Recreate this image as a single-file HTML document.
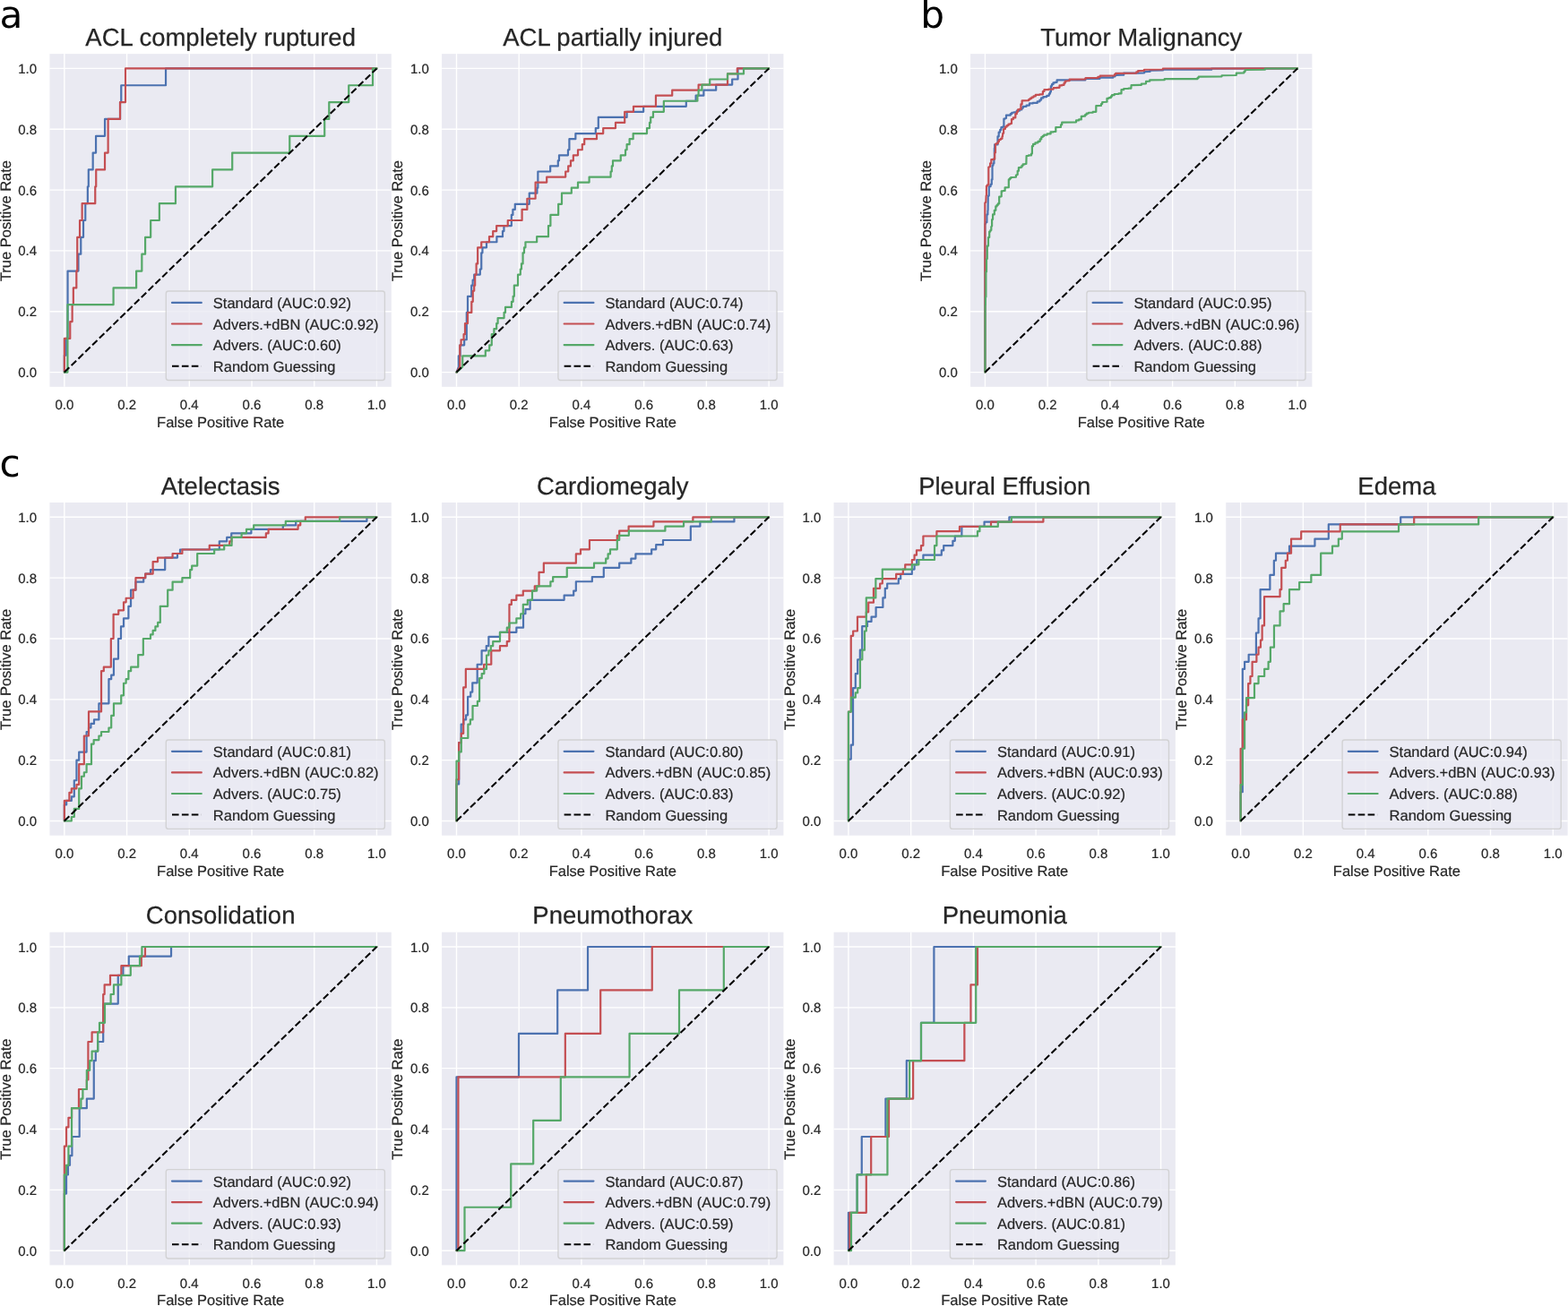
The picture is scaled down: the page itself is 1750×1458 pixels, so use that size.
<!DOCTYPE html>
<html lang="en"><head><meta charset="utf-8"><title>ROC curves</title>
<style>
html,body{margin:0;padding:0;background:#fff;}
body{width:1750px;height:1458px;overflow:hidden;}
svg{display:block;}
text{font-family:"Liberation Sans",Arial,Helvetica,sans-serif;fill:#262626;text-rendering:geometricPrecision;}
.ttl{font-size:27.5px;text-anchor:middle;stroke:#262626;stroke-width:0.25px;}
.tk{font-size:15px;stroke:#262626;stroke-width:0.2px;}
.tkx{text-anchor:middle;}
.tky{text-anchor:end;}
.lab{font-size:16.5px;text-anchor:middle;stroke:#262626;stroke-width:0.2px;}
.lg{font-size:16.5px;stroke:#262626;stroke-width:0.2px;}
.pn{font-family:"DejaVu Sans","Liberation Sans",sans-serif;font-size:42.2px;fill:#000;text-rendering:geometricPrecision;}
.grid line{stroke:#fff;stroke-width:1.37;}
.cv{fill:none;stroke-width:2.2;stroke-linejoin:round;stroke-linecap:round;}
.b{stroke:#4c72b0;}.r{stroke:#c44e52;}.g{stroke:#55a868;}
.dg{fill:none;stroke:#000;stroke-width:2.05;stroke-dasharray:7.6 3.3;}
.lbox{fill:#eaeaf2;fill-opacity:0.8;stroke:#ccc;stroke-opacity:0.8;stroke-width:1.37;}
</style></head><body>
<svg width="1750" height="1458" viewBox="0 0 1750 1458" role="img" aria-label="ROC curves for knee MRI, brain tumor and chest radiograph classifiers">
<rect x="0" y="0" width="1750" height="1458" fill="#fff"/>
<g id="p-acl_full">
<defs><clipPath id="c0"><rect x="55.45" y="60.1" width="381.35" height="371.7"/></clipPath></defs>
<rect x="55.45" y="60.1" width="381.35" height="371.7" fill="#eaeaf2"/>
<g class="grid">
<line x1="71.85" y1="60.1" x2="71.85" y2="431.8"/>
<line x1="55.45" y1="415.6" x2="436.8" y2="415.6"/>
<line x1="141.57" y1="60.1" x2="141.57" y2="431.8"/>
<line x1="55.45" y1="347.76" x2="436.8" y2="347.76"/>
<line x1="211.29" y1="60.1" x2="211.29" y2="431.8"/>
<line x1="55.45" y1="279.92" x2="436.8" y2="279.92"/>
<line x1="281.01" y1="60.1" x2="281.01" y2="431.8"/>
<line x1="55.45" y1="212.08" x2="436.8" y2="212.08"/>
<line x1="350.73" y1="60.1" x2="350.73" y2="431.8"/>
<line x1="55.45" y1="144.24" x2="436.8" y2="144.24"/>
<line x1="420.45" y1="60.1" x2="420.45" y2="431.8"/>
<line x1="55.45" y1="76.4" x2="436.8" y2="76.4"/>
</g>
<g clip-path="url(#c0)">
<polyline class="cv b" points="71.85,415.6 71.85,396.76 73.7,396.76 73.7,377.91 75.55,377.91 75.55,302.53 87.47,302.53 87.47,283.69 90.26,283.69 90.26,264.84 93.04,264.84 93.04,246 95.28,246 95.28,227.16 97.86,227.16 97.86,208.31 98.8,208.31 98.8,189.47 103.68,189.47 103.68,170.62 107.06,170.62 107.06,151.78 117.03,151.78 117.03,132.93 134.04,132.93 134.04,114.09 135.26,114.09 135.26,95.24 185.04,95.24 185.04,76.4 420.45,76.4"/>
<polyline class="cv r" points="71.85,415.6 71.85,377.91 78.26,377.91 78.26,359.07 80.63,359.07 80.63,340.22 81.85,340.22 81.85,321.38 85.31,321.38 85.31,302.53 86.25,302.53 86.25,264.84 89.04,264.84 89.04,246 91.62,246 91.62,227.16 106.26,227.16 106.26,208.31 107.23,208.31 107.23,189.47 117.03,189.47 117.03,170.62 120.62,170.62 120.62,132.93 134.04,132.93 134.04,114.09 140.04,114.09 140.04,76.4 420.45,76.4"/>
<polyline class="cv g" points="71.85,415.6 75.44,415.6 75.44,340.22 126.58,340.22 126.58,321.38 152.13,321.38 152.13,302.53 158.34,302.53 158.34,283.69 162.1,283.69 162.1,264.84 168.17,264.84 168.17,246 177.86,246 177.86,227.16 195.95,227.16 195.95,208.31 237.12,208.31 237.12,189.47 259.22,189.47 259.22,170.62 323.26,170.62 323.26,151.78 362.23,151.78 362.23,132.93 367.29,132.93 367.29,114.09 389.25,114.09 389.25,95.24 416.02,95.24 416.02,76.4 420.45,76.4"/>
<line class="dg" x1="71.85" y1="415.6" x2="420.45" y2="76.4"/>
</g>
<rect class="lbox" x="185.3" y="325.05" width="244.1" height="99.4" rx="2.7" ry="2.7"/>
<line class="cv b" x1="192" y1="337.95" x2="224.8" y2="337.95"/>
<text class="lg" x="237.8" y="343.95">Standard (AUC:0.92)</text>
<line class="cv r" x1="192" y1="361.52" x2="224.8" y2="361.52"/>
<text class="lg" x="237.8" y="367.52">Advers.+dBN (AUC:0.92)</text>
<line class="cv g" x1="192" y1="385.09" x2="224.8" y2="385.09"/>
<text class="lg" x="237.8" y="391.09">Advers. (AUC:0.60)</text>
<line class="dg" x1="192" y1="408.66" x2="224.8" y2="408.66"/>
<text class="lg" x="237.8" y="414.66">Random Guessing</text>
<text class="ttl" x="246.13" y="50.8">ACL completely ruptured</text>
<text class="tk tkx" x="71.85" y="457.1">0.0</text>
<text class="tk tky" x="41.15" y="421.1">0.0</text>
<text class="tk tkx" x="141.57" y="457.1">0.2</text>
<text class="tk tky" x="41.15" y="353.26">0.2</text>
<text class="tk tkx" x="211.29" y="457.1">0.4</text>
<text class="tk tky" x="41.15" y="285.42">0.4</text>
<text class="tk tkx" x="281.01" y="457.1">0.6</text>
<text class="tk tky" x="41.15" y="217.58">0.6</text>
<text class="tk tkx" x="350.73" y="457.1">0.8</text>
<text class="tk tky" x="41.15" y="149.74">0.8</text>
<text class="tk tkx" x="420.45" y="457.1">1.0</text>
<text class="tk tky" x="41.15" y="81.9">1.0</text>
<text class="lab" x="246.13" y="476.8">False Positive Rate</text>
<text class="lab" transform="translate(11.65 246.55) rotate(-90)">True Positive Rate</text>
</g>
<g id="p-acl_part">
<defs><clipPath id="c1"><rect x="493.1" y="60.1" width="381.35" height="371.7"/></clipPath></defs>
<rect x="493.1" y="60.1" width="381.35" height="371.7" fill="#eaeaf2"/>
<g class="grid">
<line x1="509.5" y1="60.1" x2="509.5" y2="431.8"/>
<line x1="493.1" y1="415.6" x2="874.45" y2="415.6"/>
<line x1="579.22" y1="60.1" x2="579.22" y2="431.8"/>
<line x1="493.1" y1="347.76" x2="874.45" y2="347.76"/>
<line x1="648.94" y1="60.1" x2="648.94" y2="431.8"/>
<line x1="493.1" y1="279.92" x2="874.45" y2="279.92"/>
<line x1="718.66" y1="60.1" x2="718.66" y2="431.8"/>
<line x1="493.1" y1="212.08" x2="874.45" y2="212.08"/>
<line x1="788.38" y1="60.1" x2="788.38" y2="431.8"/>
<line x1="493.1" y1="144.24" x2="874.45" y2="144.24"/>
<line x1="858.1" y1="60.1" x2="858.1" y2="431.8"/>
<line x1="493.1" y1="76.4" x2="874.45" y2="76.4"/>
</g>
<g clip-path="url(#c1)">
<polyline class="cv b" points="509.5,415.6 511.8,409.54 511.8,397.43 513.6,397.43 513.6,385.31 518.16,385.31 518.16,379.26 520.8,379.26 520.8,348.97 522,348.97 522,330.8 526.2,330.8 526.2,318.69 527.64,318.69 527.64,312.63 529.2,312.63 529.2,306.57 535.8,306.57 535.8,300.51 537.24,300.51 537.24,282.34 538.44,282.34 538.44,276.29 543,276.29 543,270.23 554.4,270.23 554.4,264.17 561,264.17 561,258.11 562.44,258.11 562.44,252.06 570.84,252.06 570.84,239.94 572.4,239.94 572.4,233.89 574.8,233.89 574.8,227.83 590.76,227.83 590.76,215.71 599.4,215.71 599.4,209.66 600.36,209.66 600.36,191.49 614.16,191.49 614.16,185.43 622.8,185.43 622.8,179.37 624,179.37 624,173.31 633.96,173.31 633.96,167.26 635.4,167.26 635.4,155.14 642.36,155.14 642.36,149.09 664.8,149.09 664.8,143.03 667.8,143.03 667.8,130.91 699.6,130.91 699.6,124.86 718.16,124.86 718.16,118.8 765.81,118.8 765.81,112.74 776.61,112.74 776.61,106.69 785.37,106.69 785.37,100.63 799.17,100.63 799.17,94.57 817.17,94.57 817.17,88.51 823.53,88.51 823.53,76.4 858.1,76.4"/>
<polyline class="cv r" points="509.5,415.6 513.24,409.54 513.24,385.31 514.56,385.31 514.56,379.26 517.56,379.26 517.56,373.2 519,373.2 519,361.09 522,361.09 522,348.97 526.32,348.97 526.32,336.86 527.76,336.86 527.76,324.74 529.2,324.74 529.2,318.69 530.16,318.69 530.16,306.57 531.6,306.57 531.6,294.46 533.16,294.46 533.16,276.29 537.24,276.29 537.24,270.23 546,270.23 546,264.17 550.2,264.17 550.2,258.11 554.16,258.11 554.16,252.06 566.76,252.06 566.76,246 582.6,246 582.6,233.89 588.36,233.89 588.36,221.77 597.6,221.77 597.6,203.6 610.2,203.6 610.2,197.54 631.2,197.54 631.2,191.49 634.2,191.49 634.2,185.43 636.96,185.43 636.96,179.37 639.84,179.37 639.84,173.31 645,173.31 645,167.26 649.8,167.26 649.8,161.2 652.2,161.2 652.2,155.14 666,155.14 666,149.09 673.2,149.09 673.2,143.03 687,143.03 687,136.97 697.2,136.97 697.2,124.86 707,124.86 707,118.8 731.96,118.8 731.96,106.69 750.21,106.69 750.21,100.63 779.61,100.63 779.61,94.57 812.01,94.57 812.01,82.46 822.81,82.46 822.81,76.4 858.1,76.4"/>
<polyline class="cv g" points="509.5,415.6 516.24,409.54 516.24,397.43 541.8,397.43 541.8,391.37 546.24,391.37 546.24,385.31 548.76,385.31 548.76,373.2 551.4,373.2 551.4,367.14 554.16,367.14 554.16,361.09 555.6,361.09 555.6,355.03 562.56,355.03 562.56,348.97 564,348.97 564,342.91 570.96,342.91 570.96,336.86 572.64,336.86 572.64,330.8 573.84,330.8 573.84,318.69 578.04,318.69 578.04,306.57 580.8,306.57 580.8,300.51 582,300.51 582,294.46 583.56,294.46 583.56,282.34 585,282.34 585,276.29 586.44,276.29 586.44,270.23 599.16,270.23 599.16,264.17 612,264.17 612,252.06 614.4,252.06 614.4,239.94 623.16,239.94 623.16,227.83 627,227.83 627,215.71 637.8,215.71 637.8,209.66 645,209.66 645,203.6 657.6,203.6 657.6,197.54 681.6,197.54 681.6,191.49 682.8,191.49 682.8,185.43 684,185.43 684,179.37 692.76,179.37 692.76,173.31 698.04,173.31 698.04,167.26 699.6,167.26 699.6,161.2 702.6,161.2 702.6,155.14 706.64,155.14 706.64,149.09 722,149.09 722,143.03 725,143.03 725,136.97 726.2,136.97 726.2,130.91 728.96,130.91 728.96,124.86 740.84,124.86 740.84,112.74 778.41,112.74 778.41,106.69 779.61,106.69 779.61,100.63 783.45,100.63 783.45,94.57 792.21,94.57 792.21,88.51 812.01,88.51 812.01,82.46 830.01,82.46 830.01,76.4 858.1,76.4"/>
<line class="dg" x1="509.5" y1="415.6" x2="858.1" y2="76.4"/>
</g>
<rect class="lbox" x="622.95" y="325.05" width="244.1" height="99.4" rx="2.7" ry="2.7"/>
<line class="cv b" x1="629.65" y1="337.95" x2="662.45" y2="337.95"/>
<text class="lg" x="675.45" y="343.95">Standard (AUC:0.74)</text>
<line class="cv r" x1="629.65" y1="361.52" x2="662.45" y2="361.52"/>
<text class="lg" x="675.45" y="367.52">Advers.+dBN (AUC:0.74)</text>
<line class="cv g" x1="629.65" y1="385.09" x2="662.45" y2="385.09"/>
<text class="lg" x="675.45" y="391.09">Advers. (AUC:0.63)</text>
<line class="dg" x1="629.65" y1="408.66" x2="662.45" y2="408.66"/>
<text class="lg" x="675.45" y="414.66">Random Guessing</text>
<text class="ttl" x="683.78" y="50.8">ACL partially injured</text>
<text class="tk tkx" x="509.5" y="457.1">0.0</text>
<text class="tk tky" x="478.8" y="421.1">0.0</text>
<text class="tk tkx" x="579.22" y="457.1">0.2</text>
<text class="tk tky" x="478.8" y="353.26">0.2</text>
<text class="tk tkx" x="648.94" y="457.1">0.4</text>
<text class="tk tky" x="478.8" y="285.42">0.4</text>
<text class="tk tkx" x="718.66" y="457.1">0.6</text>
<text class="tk tky" x="478.8" y="217.58">0.6</text>
<text class="tk tkx" x="788.38" y="457.1">0.8</text>
<text class="tk tky" x="478.8" y="149.74">0.8</text>
<text class="tk tkx" x="858.1" y="457.1">1.0</text>
<text class="tk tky" x="478.8" y="81.9">1.0</text>
<text class="lab" x="683.78" y="476.8">False Positive Rate</text>
<text class="lab" transform="translate(449.3 246.55) rotate(-90)">True Positive Rate</text>
</g>
<g id="p-tumor">
<defs><clipPath id="c2"><rect x="1083.05" y="60.1" width="381.35" height="371.7"/></clipPath></defs>
<rect x="1083.05" y="60.1" width="381.35" height="371.7" fill="#eaeaf2"/>
<g class="grid">
<line x1="1099.45" y1="60.1" x2="1099.45" y2="431.8"/>
<line x1="1083.05" y1="415.6" x2="1464.4" y2="415.6"/>
<line x1="1169.17" y1="60.1" x2="1169.17" y2="431.8"/>
<line x1="1083.05" y1="347.76" x2="1464.4" y2="347.76"/>
<line x1="1238.89" y1="60.1" x2="1238.89" y2="431.8"/>
<line x1="1083.05" y1="279.92" x2="1464.4" y2="279.92"/>
<line x1="1308.61" y1="60.1" x2="1308.61" y2="431.8"/>
<line x1="1083.05" y1="212.08" x2="1464.4" y2="212.08"/>
<line x1="1378.33" y1="60.1" x2="1378.33" y2="431.8"/>
<line x1="1083.05" y1="144.24" x2="1464.4" y2="144.24"/>
<line x1="1448.05" y1="60.1" x2="1448.05" y2="431.8"/>
<line x1="1083.05" y1="76.4" x2="1464.4" y2="76.4"/>
</g>
<g clip-path="url(#c2)">
<polyline class="cv b" points="1099.45,415.6 1099.4,250 1100,250 1100,248.2 1100.6,248.2 1101.4,248.2 1101.4,239.4 1102.2,239.4 1102.4,239.4 1102.4,235 1102.6,235 1102.76,219.6 1103.18,219.6 1103.18,218.4 1103.6,218.4 1103.78,218.4 1103.78,208.8 1103.96,208.8 1104.38,208.8 1104.38,208.2 1104.8,208.2 1105.58,208.2 1105.58,205.8 1106.36,205.8 1106.78,205.8 1106.78,200.4 1107.2,200.4 1107.5,200.4 1107.5,184.8 1107.8,184.8 1108.4,184.8 1108.4,182.4 1109,182.4 1109.42,182.4 1109.42,178.2 1109.84,178.2 1109.84,165.6 1110.14,165.6 1110.14,161.4 1110.44,161.4 1113.2,161.4 1113.5,161.4 1113.5,152.4 1113.8,152.4 1114.7,152.4 1114.7,147.6 1115.6,147.6 1116.2,147.6 1116.2,144.9 1116.8,144.9 1117.4,144.9 1117.4,142.2 1118,142.2 1118.9,142.2 1118.9,141.6 1119.8,141.6 1120.4,141.6 1120.4,132.6 1121,132.6 1121.9,132.6 1121.9,132 1122.8,132 1122.98,132 1122.98,128.64 1123.16,128.64 1127,128.64 1127.75,128.64 1127.75,127.2 1128.5,127.2 1129.25,127.2 1129.25,125.76 1130,125.76 1131.5,125.76 1131.5,125.4 1133,125.4 1134.8,125.4 1134.8,123.6 1136.6,123.6 1138.1,123.6 1138.1,122.4 1139.6,122.4 1140.35,122.4 1140.35,120.6 1141.1,120.6 1141.85,120.6 1141.85,118.8 1142.6,118.8 1145.6,118.8 1145.6,117.6 1148.6,117.6 1148.9,117.6 1148.9,115.44 1149.2,115.44 1152.8,115.44 1152.8,114.96 1156.4,114.96 1157.75,114.96 1157.75,113.28 1159.1,113.28 1160.45,113.28 1160.45,111.6 1161.8,111.6 1162.1,111.6 1162.1,109.44 1162.4,109.44 1164.35,109.44 1164.35,108.12 1166.3,108.12 1168.25,108.12 1168.25,106.8 1170.2,106.8 1170.8,106.8 1170.8,104.7 1171.4,104.7 1172,104.7 1172,102.6 1172.6,102.6 1172.9,102.6 1172.9,96 1173.2,96 1173.95,96 1173.95,94.2 1174.7,94.2 1175.45,94.2 1175.45,92.4 1176.2,92.4 1177.4,92.4 1177.4,91.8 1178.6,91.8 1179.62,91.8 1179.62,89.4 1180.64,89.4 1211,89.4 1211.3,89.4 1211.3,87.84 1211.6,87.84 1227.2,87.84 1227.5,87.84 1227.5,86.64 1227.8,86.64 1241,86.64 1242.2,86.64 1242.2,85.32 1243.4,85.32 1244.6,85.32 1244.6,84 1245.8,84 1251.8,83.76 1254.2,83.76 1254.2,81.6 1256.6,81.6 1269.92,81.6 1276.6,81.36 1277.2,81.36 1277.2,80.16 1277.8,80.16 1282,79.92 1283.5,79.92 1283.5,78.6 1285,78.6 1297.6,78.36 1298.2,78.36 1298.2,77.76 1298.8,77.76 1351.6,77.76 1352.2,77.76 1352.2,76.68 1352.8,76.68 1448.05,76.4"/>
<polyline class="cv r" points="1099.45,415.6 1099.3,226.6 1099.8,226.6 1099.8,225.8 1100.3,225.8 1100.6,218.4 1100.9,218.4 1100.9,207.6 1101.2,207.6 1102.1,207.6 1102.1,206.4 1103,206.4 1103.3,206.4 1103.3,186.6 1103.6,186.6 1104.2,186.6 1104.2,186 1104.8,186 1105.1,186 1105.1,182.4 1105.4,182.4 1106.3,182.4 1106.3,178.2 1107.2,178.2 1108.4,178.2 1108.4,177.6 1109.6,177.6 1110.2,177.6 1110.2,170.4 1110.8,170.4 1110.98,170.4 1110.98,160.8 1111.16,160.8 1112.18,160.8 1112.18,160.2 1113.2,160.2 1113.8,160.2 1113.8,158.1 1114.4,158.1 1115,158.1 1115,156 1115.6,156 1116.8,156 1116.8,154.8 1118,154.8 1118.48,154.8 1118.48,152.4 1118.96,152.4 1119.2,148.8 1120.1,148.8 1120.1,144 1121,144 1121.9,144 1121.9,141.6 1122.8,141.6 1123.7,141.6 1123.7,140.1 1124.6,140.1 1125.5,140.1 1125.5,138.6 1126.4,138.6 1127.6,138.6 1127.6,138 1128.8,138 1128.98,138 1128.98,133.2 1129.16,133.2 1130.78,133.2 1130.78,131.4 1132.4,131.4 1133.3,131.4 1133.3,127.2 1134.2,127.2 1134.8,127.2 1134.8,124.8 1135.4,124.8 1136,124.8 1136,122.4 1136.6,122.4 1137.5,122.4 1137.5,121.8 1138.4,121.8 1139.42,121.8 1139.42,116.4 1140.44,116.4 1140.62,116.4 1140.62,112.44 1140.8,112.44 1147.4,112.2 1148.15,112.2 1148.15,111 1148.9,111 1149.65,111 1149.65,109.8 1150.4,109.8 1151.45,109.8 1151.45,108.6 1152.5,108.6 1153.55,108.6 1153.55,107.4 1154.6,107.4 1155.8,107.4 1155.8,105.84 1157,105.84 1160.3,105.84 1160.3,105.36 1163.6,105.36 1163.9,105.36 1163.9,102 1164.2,102 1165.4,102 1165.4,100.2 1166.6,100.2 1170.2,100.2 1170.2,99.6 1173.8,99.6 1175.6,99.6 1175.6,98.16 1177.4,98.16 1179.5,98.16 1179.5,97.8 1181.6,97.8 1182.5,97.8 1182.5,95.4 1183.4,95.4 1185.2,95.4 1185.2,94.8 1187,94.8 1187.6,94.8 1187.6,92.7 1188.2,92.7 1188.8,92.7 1188.8,90.6 1189.4,90.6 1190.6,90.6 1190.6,90.24 1191.8,90.24 1193.6,90.24 1193.6,88.56 1195.4,88.56 1211,88.32 1211.6,88.32 1211.6,87 1212.2,87 1224.2,87 1225.4,87 1225.4,85.8 1226.6,85.8 1227.8,85.8 1227.8,84.6 1229,84.6 1243.4,84.36 1244,84.36 1244,83.1 1244.6,83.1 1245.2,83.1 1245.2,81.84 1245.8,81.84 1267.4,81.6 1268.3,81.6 1268.3,80.4 1269.2,80.4 1270.1,80.4 1270.1,79.2 1271,79.2 1276.6,78.96 1276.9,78.96 1276.9,77.76 1277.2,77.76 1297.6,77.52 1297.9,77.52 1297.9,76.5 1298.2,76.5 1448.05,76.4"/>
<polyline class="cv g" points="1099.45,415.6 1099.6,341 1099.9,341 1099.9,331.4 1100.2,331.4 1100.4,331.4 1100.4,303.4 1100.6,303.4 1101,303.4 1101,289 1101.4,289 1101.8,289 1101.8,274.6 1102.2,274.6 1103,274.6 1103,265 1103.8,265 1104.2,265 1104.2,258.6 1104.6,258.6 1105.3,258.6 1105.3,257 1106,257 1106.3,257 1106.3,253 1106.6,253 1106.85,253 1106.85,252.6 1107.1,252.6 1107.1,245 1108.05,245 1108.05,239.4 1109,239.4 1109.8,239.4 1109.8,234.8 1110.6,234.8 1111.3,234.8 1111.3,230.4 1112,230.4 1112.6,230.4 1112.6,228.9 1113.2,228.9 1113.8,228.9 1113.8,227.4 1114.4,227.4 1115.18,227.4 1115.18,219.6 1115.96,219.6 1117.4,219.36 1117.7,219.36 1117.7,213.36 1118,213.36 1119.5,213.36 1119.5,213 1121,213 1121.6,213 1121.6,209.4 1122.2,209.4 1125.2,209.16 1125.8,209.16 1125.8,200.4 1126.4,200.4 1127,200.4 1127,199.2 1127.6,199.2 1128.2,199.2 1128.2,198 1128.8,198 1133.6,197.76 1133.9,197.76 1133.9,195.6 1134.2,195.6 1134.8,195.6 1134.8,195 1135.4,195 1135.7,195 1135.7,190.8 1136,190.8 1136.9,190.8 1136.9,187.2 1137.8,187.2 1139,187.2 1139,186.6 1140.2,186.6 1140.5,186.6 1140.5,184.8 1140.8,184.8 1141.7,184.8 1141.7,183.36 1142.6,183.36 1143.98,183.36 1143.98,183 1145.36,183 1145.6,174 1148,174 1148,173.4 1150.4,173.4 1151,173.4 1151,171.6 1151.6,171.6 1151.9,171.6 1151.9,163.2 1152.2,163.2 1153.1,163.2 1153.1,160.8 1154,160.8 1155.5,160.8 1155.5,159.3 1157,159.3 1158.5,159.3 1158.5,157.8 1160,157.8 1160.75,157.8 1160.75,155.4 1161.5,155.4 1162.25,155.4 1162.25,153 1163,153 1163.75,153 1163.75,151.8 1164.5,151.8 1165.25,151.8 1165.25,150.6 1166,150.6 1168.7,150.6 1168.7,149.4 1171.4,149.4 1172.6,149.4 1172.6,147.36 1173.8,147.36 1175.9,147.36 1175.9,147 1178,147 1178.3,147 1178.3,142.2 1178.6,142.2 1183.4,141.96 1184,141.96 1184,139.26 1184.6,139.26 1185.2,139.26 1185.2,136.56 1185.8,136.56 1200.2,136.32 1201.1,136.32 1201.1,134.4 1202,134.4 1204.1,134.4 1204.1,133.44 1206.2,133.44 1206.8,133.44 1206.8,129.96 1207.4,129.96 1208.9,129.96 1208.9,129.6 1210.4,129.6 1211.15,129.6 1211.15,128.1 1211.9,128.1 1212.65,128.1 1212.65,126.6 1213.4,126.6 1214.9,126.6 1214.9,125.76 1216.4,125.76 1219.7,125.76 1219.7,124.8 1223,124.8 1223.3,124.8 1223.3,118.2 1223.6,118.2 1228.4,117.96 1229,117.96 1229,115.98 1229.6,115.98 1230.2,115.98 1230.2,114 1230.8,114 1235,113.76 1235.48,113.76 1235.48,109.8 1235.96,109.8 1237.58,109.8 1237.58,109.2 1239.2,109.2 1239.8,109.2 1239.8,107.7 1240.4,107.7 1241,107.7 1241,106.2 1241.6,106.2 1243.7,106.2 1243.7,105 1245.8,105 1248.5,105 1248.5,104.4 1251.2,104.4 1251.5,104.4 1251.5,100.2 1251.8,100.2 1254.2,100.2 1254.2,99 1256.6,99 1259.48,99 1259.48,98.64 1262.36,98.64 1262.6,95.04 1272.2,94.8 1273.6,94.8 1273.9,94.8 1273.9,93.6 1274.2,93.6 1278.4,93.36 1279,93.36 1279,90.96 1279.6,90.96 1282.6,90.72 1283.2,90.72 1283.2,89.4 1283.8,89.4 1299.4,89.16 1299.7,89.16 1299.7,88.08 1300,88.08 1336,88.08 1336.6,88.08 1336.6,86.82 1337.2,86.82 1337.8,86.82 1337.8,85.56 1338.4,85.56 1363,85.32 1363.6,85.32 1363.6,84.24 1364.2,84.24 1379.2,84 1379.8,84 1379.8,81.6 1380.4,81.6 1387.6,81.36 1388.5,81.36 1388.5,79.8 1389.4,79.8 1389.7,79.8 1389.7,78 1390,78 1411.6,77.76 1411.9,77.76 1411.9,76.5 1412.2,76.5 1448.05,76.4"/>
<line class="dg" x1="1099.45" y1="415.6" x2="1448.05" y2="76.4"/>
</g>
<rect class="lbox" x="1212.9" y="325.05" width="244.1" height="99.4" rx="2.7" ry="2.7"/>
<line class="cv b" x1="1219.6" y1="337.95" x2="1252.4" y2="337.95"/>
<text class="lg" x="1265.4" y="343.95">Standard (AUC:0.95)</text>
<line class="cv r" x1="1219.6" y1="361.52" x2="1252.4" y2="361.52"/>
<text class="lg" x="1265.4" y="367.52">Advers.+dBN (AUC:0.96)</text>
<line class="cv g" x1="1219.6" y1="385.09" x2="1252.4" y2="385.09"/>
<text class="lg" x="1265.4" y="391.09">Advers. (AUC:0.88)</text>
<line class="dg" x1="1219.6" y1="408.66" x2="1252.4" y2="408.66"/>
<text class="lg" x="1265.4" y="414.66">Random Guessing</text>
<text class="ttl" x="1273.72" y="50.8">Tumor Malignancy</text>
<text class="tk tkx" x="1099.45" y="457.1">0.0</text>
<text class="tk tky" x="1068.75" y="421.1">0.0</text>
<text class="tk tkx" x="1169.17" y="457.1">0.2</text>
<text class="tk tky" x="1068.75" y="353.26">0.2</text>
<text class="tk tkx" x="1238.89" y="457.1">0.4</text>
<text class="tk tky" x="1068.75" y="285.42">0.4</text>
<text class="tk tkx" x="1308.61" y="457.1">0.6</text>
<text class="tk tky" x="1068.75" y="217.58">0.6</text>
<text class="tk tkx" x="1378.33" y="457.1">0.8</text>
<text class="tk tky" x="1068.75" y="149.74">0.8</text>
<text class="tk tkx" x="1448.05" y="457.1">1.0</text>
<text class="tk tky" x="1068.75" y="81.9">1.0</text>
<text class="lab" x="1273.72" y="476.8">False Positive Rate</text>
<text class="lab" transform="translate(1039.25 246.55) rotate(-90)">True Positive Rate</text>
</g>
<g id="p-atel">
<defs><clipPath id="c3"><rect x="55.45" y="561" width="381.35" height="371.7"/></clipPath></defs>
<rect x="55.45" y="561" width="381.35" height="371.7" fill="#eaeaf2"/>
<g class="grid">
<line x1="71.85" y1="561" x2="71.85" y2="932.7"/>
<line x1="55.45" y1="916.5" x2="436.8" y2="916.5"/>
<line x1="141.57" y1="561" x2="141.57" y2="932.7"/>
<line x1="55.45" y1="848.66" x2="436.8" y2="848.66"/>
<line x1="211.29" y1="561" x2="211.29" y2="932.7"/>
<line x1="55.45" y1="780.82" x2="436.8" y2="780.82"/>
<line x1="281.01" y1="561" x2="281.01" y2="932.7"/>
<line x1="55.45" y1="712.98" x2="436.8" y2="712.98"/>
<line x1="350.73" y1="561" x2="350.73" y2="932.7"/>
<line x1="55.45" y1="645.14" x2="436.8" y2="645.14"/>
<line x1="420.45" y1="561" x2="420.45" y2="932.7"/>
<line x1="55.45" y1="577.3" x2="436.8" y2="577.3"/>
</g>
<g clip-path="url(#c3)">
<polyline class="cv b" points="71.85,916.5 71.85,916.5 71.85,898.41 74.16,898.41 74.16,893.89 79.8,893.89 79.8,889.36 82.8,889.36 82.8,871.27 85.44,871.27 85.44,848.66 88.2,848.66 88.2,839.61 96.6,839.61 96.6,817 99,817 99,812.48 101.4,812.48 101.4,807.96 105,807.96 105,803.43 110.4,803.43 110.4,785.34 121.44,785.34 121.44,758.21 124.2,758.21 124.2,753.68 126.96,753.68 126.96,735.59 132,735.59 132,712.98 135,712.98 135,699.41 138,699.41 138,690.37 143.4,690.37 143.4,676.8 146.04,676.8 146.04,658.71 151.44,658.71 151.44,649.66 160.2,649.66 160.2,645.14 162.24,645.14 162.24,640.62 168,640.62 168,636.09 184.2,636.09 184.2,622.53 198,622.53 198,618 201,618 201,613.48 244.8,613.48 244.8,604.44 253.2,604.44 253.2,599.91 258.24,599.91 258.24,595.39 280.4,595.39 280.4,590.87 315.81,590.87 315.81,586.35 330.21,586.35 330.21,581.82 409.41,581.82 409.41,577.3 420.45,577.3"/>
<polyline class="cv r" points="71.85,916.5 71.85,916.5 71.85,893.89 77.4,893.89 77.4,884.84 79.8,884.84 79.8,880.32 85.44,880.32 85.44,875.8 88.2,875.8 88.2,853.18 93.84,853.18 93.84,821.52 99,821.52 99,794.39 113.04,794.39 113.04,749.16 115.8,749.16 115.8,744.64 123.84,744.64 123.84,712.98 126.6,712.98 126.6,685.84 132.24,685.84 132.24,681.32 138,681.32 138,672.28 140.64,672.28 140.64,667.75 148.56,667.75 148.56,658.71 151.44,658.71 151.44,645.14 162.24,645.14 162.24,640.62 170.64,640.62 170.64,627.05 176.04,627.05 176.04,622.53 192.6,622.53 192.6,618 203.4,618 203.4,613.48 233.76,613.48 233.76,608.96 256.2,608.96 256.2,604.44 258.44,604.44 258.44,599.91 296.84,599.91 296.84,595.39 299.6,595.39 299.6,590.87 332.61,590.87 332.61,586.35 335.25,586.35 335.25,581.82 340.77,581.82 340.77,577.3 420.45,577.3"/>
<polyline class="cv g" points="71.85,916.5 79.8,916.5 79.8,911.98 82.8,911.98 82.8,902.93 88.2,902.93 88.2,880.32 90.96,880.32 90.96,866.75 93.84,866.75 93.84,862.23 96.6,862.23 96.6,853.18 102,853.18 102,830.57 104.64,830.57 104.64,826.05 110.4,826.05 110.4,821.52 113.04,821.52 113.04,817 121.44,817 121.44,812.48 124.2,812.48 124.2,798.91 126.96,798.91 126.96,785.34 135.24,785.34 135.24,776.3 138,776.3 138,762.73 140.64,762.73 140.64,758.21 143.4,758.21 143.4,749.16 146.16,749.16 146.16,744.64 154.2,744.64 154.2,731.07 159.84,731.07 159.84,712.98 168,712.98 168,708.46 170.64,708.46 170.64,703.93 173.4,703.93 173.4,699.41 176.16,699.41 176.16,694.89 178.8,694.89 178.8,676.8 187.2,676.8 187.2,658.71 192.6,658.71 192.6,649.66 203.4,649.66 203.4,645.14 212.16,645.14 212.16,636.09 214.2,636.09 214.2,631.57 220.2,631.57 220.2,618 239.16,618 239.16,613.48 250.2,613.48 250.2,608.96 258.6,608.96 258.6,599.91 269.6,599.91 269.6,595.39 275,595.39 275,590.87 283.16,590.87 283.16,586.35 318.81,586.35 318.81,581.82 379.17,581.82 379.17,577.3 420.45,577.3"/>
<line class="dg" x1="71.85" y1="916.5" x2="420.45" y2="577.3"/>
</g>
<rect class="lbox" x="185.3" y="825.95" width="244.1" height="99.4" rx="2.7" ry="2.7"/>
<line class="cv b" x1="192" y1="838.85" x2="224.8" y2="838.85"/>
<text class="lg" x="237.8" y="844.85">Standard (AUC:0.81)</text>
<line class="cv r" x1="192" y1="862.42" x2="224.8" y2="862.42"/>
<text class="lg" x="237.8" y="868.42">Advers.+dBN (AUC:0.82)</text>
<line class="cv g" x1="192" y1="885.99" x2="224.8" y2="885.99"/>
<text class="lg" x="237.8" y="891.99">Advers. (AUC:0.75)</text>
<line class="dg" x1="192" y1="909.56" x2="224.8" y2="909.56"/>
<text class="lg" x="237.8" y="915.56">Random Guessing</text>
<text class="ttl" x="246.13" y="551.7">Atelectasis</text>
<text class="tk tkx" x="71.85" y="958">0.0</text>
<text class="tk tky" x="41.15" y="922">0.0</text>
<text class="tk tkx" x="141.57" y="958">0.2</text>
<text class="tk tky" x="41.15" y="854.16">0.2</text>
<text class="tk tkx" x="211.29" y="958">0.4</text>
<text class="tk tky" x="41.15" y="786.32">0.4</text>
<text class="tk tkx" x="281.01" y="958">0.6</text>
<text class="tk tky" x="41.15" y="718.48">0.6</text>
<text class="tk tkx" x="350.73" y="958">0.8</text>
<text class="tk tky" x="41.15" y="650.64">0.8</text>
<text class="tk tkx" x="420.45" y="958">1.0</text>
<text class="tk tky" x="41.15" y="582.8">1.0</text>
<text class="lab" x="246.13" y="977.7">False Positive Rate</text>
<text class="lab" transform="translate(11.65 747.45) rotate(-90)">True Positive Rate</text>
</g>
<g id="p-cardio">
<defs><clipPath id="c4"><rect x="493.1" y="561" width="381.35" height="371.7"/></clipPath></defs>
<rect x="493.1" y="561" width="381.35" height="371.7" fill="#eaeaf2"/>
<g class="grid">
<line x1="509.5" y1="561" x2="509.5" y2="932.7"/>
<line x1="493.1" y1="916.5" x2="874.45" y2="916.5"/>
<line x1="579.22" y1="561" x2="579.22" y2="932.7"/>
<line x1="493.1" y1="848.66" x2="874.45" y2="848.66"/>
<line x1="648.94" y1="561" x2="648.94" y2="932.7"/>
<line x1="493.1" y1="780.82" x2="874.45" y2="780.82"/>
<line x1="718.66" y1="561" x2="718.66" y2="932.7"/>
<line x1="493.1" y1="712.98" x2="874.45" y2="712.98"/>
<line x1="788.38" y1="561" x2="788.38" y2="932.7"/>
<line x1="493.1" y1="645.14" x2="874.45" y2="645.14"/>
<line x1="858.1" y1="561" x2="858.1" y2="932.7"/>
<line x1="493.1" y1="577.3" x2="874.45" y2="577.3"/>
</g>
<g clip-path="url(#c4)">
<polyline class="cv b" points="509.5,916.5 509.5,916.5 509.5,875.38 512.16,875.38 512.16,829.13 514.68,829.13 514.68,808.57 517.44,808.57 517.44,803.43 520.08,803.43 520.08,798.29 522.12,798.29 522.12,777.74 525.24,777.74 525.24,772.6 527.28,772.6 527.28,762.32 532.68,762.32 532.68,741.76 537.6,741.76 537.6,726.34 542.76,726.34 542.76,721.2 545.4,721.2 545.4,710.92 558,710.92 558,705.78 576.36,705.78 576.36,700.65 584.04,700.65 584.04,685.23 586.44,685.23 586.44,680.09 591.6,680.09 591.6,669.81 629.64,669.81 629.64,664.67 640.2,664.67 640.2,659.53 642.84,659.53 642.84,649.25 660.84,649.25 660.84,644.11 673.8,644.11 673.8,633.83 691.2,633.83 691.2,628.69 704.36,628.69 704.36,623.55 709.4,623.55 709.4,618.42 727.16,618.42 727.16,613.28 732.2,613.28 732.2,608.14 740,608.14 740,603 770.85,603 770.85,587.58 781.41,587.58 781.41,582.44 819.45,582.44 819.45,577.3 858.1,577.3"/>
<polyline class="cv r" points="509.5,916.5 509.5,916.5 509.5,870.25 512.16,870.25 512.16,829.13 514.8,829.13 514.8,818.85 517.2,818.85 517.2,767.46 519.84,767.46 519.84,746.9 540.12,746.9 540.12,741.76 548.28,741.76 548.28,726.34 558,726.34 558,721.2 565.8,721.2 565.8,716.06 568.44,716.06 568.44,674.95 570.84,674.95 570.84,669.81 576.36,669.81 576.36,664.67 583.8,664.67 583.8,659.53 596.76,659.53 596.76,654.39 601.56,654.39 601.56,638.97 606.84,638.97 606.84,628.69 642.84,628.69 642.84,618.42 648,618.42 648,613.28 657.96,613.28 657.96,603 688.8,603 688.8,597.86 691.2,597.86 691.2,592.72 701.6,592.72 701.6,587.58 729.44,587.58 729.44,582.44 773.37,582.44 773.37,577.3 858.1,577.3"/>
<polyline class="cv g" points="509.5,916.5 509.5,916.5 509.5,849.69 512.16,849.69 512.16,839.41 514.8,839.41 514.8,823.99 522.36,823.99 522.36,808.57 524.88,808.57 524.88,803.43 527.52,803.43 527.52,788.02 532.92,788.02 532.92,782.88 535.08,782.88 535.08,757.18 537.72,757.18 537.72,752.04 540.36,752.04 540.36,746.9 543,746.9 543,731.48 545.4,731.48 545.4,726.34 547.8,726.34 547.8,721.2 550.2,721.2 550.2,716.06 558,716.06 558,705.78 565.8,705.78 565.8,700.65 568.44,700.65 568.44,695.51 576.36,695.51 576.36,690.37 581.16,690.37 581.16,685.23 583.8,685.23 583.8,674.95 588.84,674.95 588.84,669.81 594,669.81 594,659.53 599.16,659.53 599.16,654.39 614.4,654.39 614.4,649.25 617.16,649.25 617.16,644.11 632.76,644.11 632.76,633.83 663,633.83 663,628.69 676.2,628.69 676.2,623.55 678.6,623.55 678.6,618.42 681,618.42 681,613.28 688.8,613.28 688.8,603 691.2,603 691.2,597.86 701.84,597.86 701.84,592.72 742.4,592.72 742.4,587.58 763.05,587.58 763.05,582.44 793.77,582.44 793.77,577.3 858.1,577.3"/>
<line class="dg" x1="509.5" y1="916.5" x2="858.1" y2="577.3"/>
</g>
<rect class="lbox" x="622.95" y="825.95" width="244.1" height="99.4" rx="2.7" ry="2.7"/>
<line class="cv b" x1="629.65" y1="838.85" x2="662.45" y2="838.85"/>
<text class="lg" x="675.45" y="844.85">Standard (AUC:0.80)</text>
<line class="cv r" x1="629.65" y1="862.42" x2="662.45" y2="862.42"/>
<text class="lg" x="675.45" y="868.42">Advers.+dBN (AUC:0.85)</text>
<line class="cv g" x1="629.65" y1="885.99" x2="662.45" y2="885.99"/>
<text class="lg" x="675.45" y="891.99">Advers. (AUC:0.83)</text>
<line class="dg" x1="629.65" y1="909.56" x2="662.45" y2="909.56"/>
<text class="lg" x="675.45" y="915.56">Random Guessing</text>
<text class="ttl" x="683.78" y="551.7">Cardiomegaly</text>
<text class="tk tkx" x="509.5" y="958">0.0</text>
<text class="tk tky" x="478.8" y="922">0.0</text>
<text class="tk tkx" x="579.22" y="958">0.2</text>
<text class="tk tky" x="478.8" y="854.16">0.2</text>
<text class="tk tkx" x="648.94" y="958">0.4</text>
<text class="tk tky" x="478.8" y="786.32">0.4</text>
<text class="tk tkx" x="718.66" y="958">0.6</text>
<text class="tk tky" x="478.8" y="718.48">0.6</text>
<text class="tk tkx" x="788.38" y="958">0.8</text>
<text class="tk tky" x="478.8" y="650.64">0.8</text>
<text class="tk tkx" x="858.1" y="958">1.0</text>
<text class="tk tky" x="478.8" y="582.8">1.0</text>
<text class="lab" x="683.78" y="977.7">False Positive Rate</text>
<text class="lab" transform="translate(449.3 747.45) rotate(-90)">True Positive Rate</text>
</g>
<g id="p-pleural">
<defs><clipPath id="c5"><rect x="930.55" y="561" width="381.35" height="371.7"/></clipPath></defs>
<rect x="930.55" y="561" width="381.35" height="371.7" fill="#eaeaf2"/>
<g class="grid">
<line x1="946.95" y1="561" x2="946.95" y2="932.7"/>
<line x1="930.55" y1="916.5" x2="1311.9" y2="916.5"/>
<line x1="1016.67" y1="561" x2="1016.67" y2="932.7"/>
<line x1="930.55" y1="848.66" x2="1311.9" y2="848.66"/>
<line x1="1086.39" y1="561" x2="1086.39" y2="932.7"/>
<line x1="930.55" y1="780.82" x2="1311.9" y2="780.82"/>
<line x1="1156.11" y1="561" x2="1156.11" y2="932.7"/>
<line x1="930.55" y1="712.98" x2="1311.9" y2="712.98"/>
<line x1="1225.83" y1="561" x2="1225.83" y2="932.7"/>
<line x1="930.55" y1="645.14" x2="1311.9" y2="645.14"/>
<line x1="1295.55" y1="561" x2="1295.55" y2="932.7"/>
<line x1="930.55" y1="577.3" x2="1311.9" y2="577.3"/>
</g>
<g clip-path="url(#c5)">
<polyline class="cv b" points="946.95,916.5 946.95,916.5 946.95,847.6 949.76,847.6 949.76,831.7 952.04,831.7 952.04,768.1 954.8,768.1 954.8,752.2 957.2,752.2 957.2,736.3 959.84,736.3 959.84,725.7 962.24,725.7 962.24,699.2 968,699.2 968,693.9 972.56,693.9 972.56,688.6 977.6,688.6 977.6,678 985.4,678 985.4,667.4 987.8,667.4 987.8,656.8 990.2,656.8 990.2,651.5 1002.8,651.5 1002.8,646.2 1005.2,646.2 1005.2,640.9 1017.8,640.9 1017.8,635.6 1020.56,635.6 1020.56,630.3 1023.2,630.3 1023.2,625 1030.4,625 1030.4,619.7 1050.8,619.7 1050.8,614.4 1053.2,614.4 1053.2,609.1 1063.4,609.1 1063.4,603.8 1065.8,603.8 1065.8,598.5 1073.36,598.5 1073.36,587.9 1098.56,587.9 1098.56,582.6 1126.4,582.6 1126.4,577.3 1295.55,577.3"/>
<polyline class="cv r" points="946.95,916.5 946.95,916.5 946.95,794.6 949.76,794.6 949.76,709.8 952.16,709.8 952.16,704.5 956.96,704.5 956.96,688.6 966.8,688.6 966.8,683.3 969.2,683.3 969.2,672.7 974.96,672.7 974.96,656.8 982.16,656.8 982.16,651.5 984.8,651.5 984.8,646.2 1000.16,646.2 1000.16,640.9 1007.84,640.9 1007.84,635.6 1010.24,635.6 1010.24,630.3 1017.8,630.3 1017.8,625 1020.56,625 1020.56,619.7 1022.96,619.7 1022.96,614.4 1028,614.4 1028,609.1 1030.4,609.1 1030.4,598.5 1045.4,598.5 1045.4,593.2 1070.96,593.2 1070.96,587.9 1106,587.9 1106,582.6 1164.4,582.6 1164.4,577.3 1295.55,577.3"/>
<polyline class="cv g" points="946.95,916.5 946.95,916.5 946.95,794.6 950,794.6 950,778.7 954.8,778.7 954.8,773.4 957.2,773.4 957.2,768.1 959.96,768.1 959.96,736.3 962.36,736.3 962.36,725.7 965,725.7 965,704.5 966.8,704.5 966.8,667.4 977.36,667.4 977.36,646.2 984.8,646.2 984.8,635.6 1017.8,635.6 1017.8,630.3 1025.36,630.3 1025.36,625 1043,625 1043,609.1 1045.4,609.1 1045.4,598.5 1091,598.5 1091,593.2 1093.4,593.2 1093.4,587.9 1113.8,587.9 1113.8,582.6 1128.92,582.6 1128.92,577.3 1295.55,577.3"/>
<line class="dg" x1="946.95" y1="916.5" x2="1295.55" y2="577.3"/>
</g>
<rect class="lbox" x="1060.4" y="825.95" width="244.1" height="99.4" rx="2.7" ry="2.7"/>
<line class="cv b" x1="1067.1" y1="838.85" x2="1099.9" y2="838.85"/>
<text class="lg" x="1112.9" y="844.85">Standard (AUC:0.91)</text>
<line class="cv r" x1="1067.1" y1="862.42" x2="1099.9" y2="862.42"/>
<text class="lg" x="1112.9" y="868.42">Advers.+dBN (AUC:0.93)</text>
<line class="cv g" x1="1067.1" y1="885.99" x2="1099.9" y2="885.99"/>
<text class="lg" x="1112.9" y="891.99">Advers. (AUC:0.92)</text>
<line class="dg" x1="1067.1" y1="909.56" x2="1099.9" y2="909.56"/>
<text class="lg" x="1112.9" y="915.56">Random Guessing</text>
<text class="ttl" x="1121.23" y="551.7">Pleural Effusion</text>
<text class="tk tkx" x="946.95" y="958">0.0</text>
<text class="tk tky" x="916.25" y="922">0.0</text>
<text class="tk tkx" x="1016.67" y="958">0.2</text>
<text class="tk tky" x="916.25" y="854.16">0.2</text>
<text class="tk tkx" x="1086.39" y="958">0.4</text>
<text class="tk tky" x="916.25" y="786.32">0.4</text>
<text class="tk tkx" x="1156.11" y="958">0.6</text>
<text class="tk tky" x="916.25" y="718.48">0.6</text>
<text class="tk tkx" x="1225.83" y="958">0.8</text>
<text class="tk tky" x="916.25" y="650.64">0.8</text>
<text class="tk tkx" x="1295.55" y="958">1.0</text>
<text class="tk tky" x="916.25" y="582.8">1.0</text>
<text class="lab" x="1121.23" y="977.7">False Positive Rate</text>
<text class="lab" transform="translate(886.75 747.45) rotate(-90)">True Positive Rate</text>
</g>
<g id="p-edema">
<defs><clipPath id="c6"><rect x="1368.25" y="561" width="381.35" height="371.7"/></clipPath></defs>
<rect x="1368.25" y="561" width="381.35" height="371.7" fill="#eaeaf2"/>
<g class="grid">
<line x1="1384.65" y1="561" x2="1384.65" y2="932.7"/>
<line x1="1368.25" y1="916.5" x2="1749.6" y2="916.5"/>
<line x1="1454.37" y1="561" x2="1454.37" y2="932.7"/>
<line x1="1368.25" y1="848.66" x2="1749.6" y2="848.66"/>
<line x1="1524.09" y1="561" x2="1524.09" y2="932.7"/>
<line x1="1368.25" y1="780.82" x2="1749.6" y2="780.82"/>
<line x1="1593.81" y1="561" x2="1593.81" y2="932.7"/>
<line x1="1368.25" y1="712.98" x2="1749.6" y2="712.98"/>
<line x1="1663.53" y1="561" x2="1663.53" y2="932.7"/>
<line x1="1368.25" y1="645.14" x2="1749.6" y2="645.14"/>
<line x1="1733.25" y1="561" x2="1733.25" y2="932.7"/>
<line x1="1368.25" y1="577.3" x2="1749.6" y2="577.3"/>
</g>
<g clip-path="url(#c6)">
<polyline class="cv b" points="1384.65,916.5 1384.65,916.5 1384.65,884.2 1386.8,884.2 1386.8,746.9 1389.08,746.9 1389.08,738.82 1393.64,738.82 1393.64,730.75 1401.92,730.75 1401.92,706.52 1404.56,706.52 1404.56,690.37 1406.6,690.37 1406.6,658.06 1417.4,658.06 1417.4,641.91 1421.84,641.91 1421.84,625.76 1424,625.76 1424,617.68 1439,617.68 1439,609.6 1467.44,609.6 1467.44,601.53 1482.8,601.53 1482.8,585.38 1563.2,585.38 1563.2,577.3 1733.25,577.3"/>
<polyline class="cv r" points="1384.65,916.5 1384.65,916.5 1384.65,835.74 1386.8,835.74 1386.8,803.43 1391,803.43 1391,787.28 1393.16,787.28 1393.16,763.05 1395.44,763.05 1395.44,754.98 1397.6,754.98 1397.6,738.82 1402.4,738.82 1402.4,730.75 1404.56,730.75 1404.56,722.67 1406.96,722.67 1406.96,714.6 1408.64,714.6 1408.64,698.44 1411.04,698.44 1411.04,666.14 1428.56,666.14 1428.56,658.06 1430.24,658.06 1430.24,633.83 1434.8,633.83 1434.8,625.76 1436.96,625.76 1436.96,617.68 1441.04,617.68 1441.04,601.53 1452.2,601.53 1452.2,593.45 1495.76,593.45 1495.76,585.38 1578.2,585.38 1578.2,577.3 1733.25,577.3"/>
<polyline class="cv g" points="1384.65,916.5 1384.65,916.5 1384.65,876.12 1386.8,876.12 1386.8,835.74 1389.08,835.74 1389.08,795.36 1391,795.36 1391,779.2 1400,779.2 1400,763.05 1404.56,763.05 1404.56,754.98 1411.16,754.98 1411.16,746.9 1415.6,746.9 1415.6,738.82 1417.88,738.82 1417.88,722.67 1421.96,722.67 1421.96,698.44 1428.56,698.44 1428.56,682.29 1432.64,682.29 1432.64,674.21 1439,674.21 1439,658.06 1450.16,658.06 1450.16,649.99 1463.36,649.99 1463.36,641.91 1474.16,641.91 1474.16,617.68 1487,617.68 1487,609.6 1493.84,609.6 1493.84,601.53 1497.8,601.53 1497.8,593.45 1561.04,593.45 1561.04,585.38 1650.17,585.38 1650.17,577.3 1733.25,577.3"/>
<line class="dg" x1="1384.65" y1="916.5" x2="1733.25" y2="577.3"/>
</g>
<rect class="lbox" x="1498.1" y="825.95" width="244.1" height="99.4" rx="2.7" ry="2.7"/>
<line class="cv b" x1="1504.8" y1="838.85" x2="1537.6" y2="838.85"/>
<text class="lg" x="1550.6" y="844.85">Standard (AUC:0.94)</text>
<line class="cv r" x1="1504.8" y1="862.42" x2="1537.6" y2="862.42"/>
<text class="lg" x="1550.6" y="868.42">Advers.+dBN (AUC:0.93)</text>
<line class="cv g" x1="1504.8" y1="885.99" x2="1537.6" y2="885.99"/>
<text class="lg" x="1550.6" y="891.99">Advers. (AUC:0.88)</text>
<line class="dg" x1="1504.8" y1="909.56" x2="1537.6" y2="909.56"/>
<text class="lg" x="1550.6" y="915.56">Random Guessing</text>
<text class="ttl" x="1558.92" y="551.7">Edema</text>
<text class="tk tkx" x="1384.65" y="958">0.0</text>
<text class="tk tky" x="1353.95" y="922">0.0</text>
<text class="tk tkx" x="1454.37" y="958">0.2</text>
<text class="tk tky" x="1353.95" y="854.16">0.2</text>
<text class="tk tkx" x="1524.09" y="958">0.4</text>
<text class="tk tky" x="1353.95" y="786.32">0.4</text>
<text class="tk tkx" x="1593.81" y="958">0.6</text>
<text class="tk tky" x="1353.95" y="718.48">0.6</text>
<text class="tk tkx" x="1663.53" y="958">0.8</text>
<text class="tk tky" x="1353.95" y="650.64">0.8</text>
<text class="tk tkx" x="1733.25" y="958">1.0</text>
<text class="tk tky" x="1353.95" y="582.8">1.0</text>
<text class="lab" x="1558.92" y="977.7">False Positive Rate</text>
<text class="lab" transform="translate(1324.45 747.45) rotate(-90)">True Positive Rate</text>
</g>
<g id="p-consol">
<defs><clipPath id="c7"><rect x="55.45" y="1040.7" width="381.35" height="371.7"/></clipPath></defs>
<rect x="55.45" y="1040.7" width="381.35" height="371.7" fill="#eaeaf2"/>
<g class="grid">
<line x1="71.85" y1="1040.7" x2="71.85" y2="1412.4"/>
<line x1="55.45" y1="1396.2" x2="436.8" y2="1396.2"/>
<line x1="141.57" y1="1040.7" x2="141.57" y2="1412.4"/>
<line x1="55.45" y1="1328.36" x2="436.8" y2="1328.36"/>
<line x1="211.29" y1="1040.7" x2="211.29" y2="1412.4"/>
<line x1="55.45" y1="1260.52" x2="436.8" y2="1260.52"/>
<line x1="281.01" y1="1040.7" x2="281.01" y2="1412.4"/>
<line x1="55.45" y1="1192.68" x2="436.8" y2="1192.68"/>
<line x1="350.73" y1="1040.7" x2="350.73" y2="1412.4"/>
<line x1="55.45" y1="1124.84" x2="436.8" y2="1124.84"/>
<line x1="420.45" y1="1040.7" x2="420.45" y2="1412.4"/>
<line x1="55.45" y1="1057" x2="436.8" y2="1057"/>
</g>
<g clip-path="url(#c7)">
<polyline class="cv b" points="71.85,1396.2 71.85,1396.2 71.85,1332.6 74.04,1332.6 74.04,1311.4 75.96,1311.4 75.96,1300.8 78,1300.8 78,1290.2 80.4,1290.2 80.4,1269 88.68,1269 88.68,1237.2 96.84,1237.2 96.84,1226.6 104.76,1226.6 104.76,1184.2 106.8,1184.2 106.8,1173.6 109.2,1173.6 109.2,1163 115.2,1163 115.2,1120.6 131.76,1120.6 131.76,1088.8 137.4,1088.8 137.4,1078.2 143.76,1078.2 143.76,1067.6 191.04,1067.6 191.04,1057 420.45,1057"/>
<polyline class="cv r" points="71.85,1396.2 71.85,1396.2 71.85,1279.6 74.04,1279.6 74.04,1258.4 76.44,1258.4 76.44,1247.8 80.04,1247.8 80.04,1237.2 87.96,1237.2 87.96,1216 96.84,1216 96.84,1205.4 98.4,1205.4 98.4,1163 102.6,1163 102.6,1152.4 115.2,1152.4 115.2,1110 116.64,1110 116.64,1099.4 123,1099.4 123,1088.8 135.36,1088.8 135.36,1078.2 157.8,1078.2 157.8,1067.6 162,1067.6 162,1057 420.45,1057"/>
<polyline class="cv g" points="71.85,1396.2 71.85,1396.2 71.85,1311.4 74.04,1311.4 74.04,1300.8 76.44,1300.8 76.44,1279.6 80.04,1279.6 80.04,1237.2 90.36,1237.2 90.36,1226.6 92.4,1226.6 92.4,1216 96.84,1216 96.84,1194.8 100.2,1194.8 100.2,1184.2 102.6,1184.2 102.6,1173.6 109.2,1173.6 109.2,1152.4 111,1152.4 111,1141.8 117,1141.8 117,1120.6 123.6,1120.6 123.6,1110 126.96,1110 126.96,1099.4 135.36,1099.4 135.36,1088.8 145.8,1088.8 145.8,1078.2 156,1078.2 156,1067.6 158.4,1067.6 158.4,1057 420.45,1057"/>
<line class="dg" x1="71.85" y1="1396.2" x2="420.45" y2="1057"/>
</g>
<rect class="lbox" x="185.3" y="1305.65" width="244.1" height="99.4" rx="2.7" ry="2.7"/>
<line class="cv b" x1="192" y1="1318.55" x2="224.8" y2="1318.55"/>
<text class="lg" x="237.8" y="1324.55">Standard (AUC:0.92)</text>
<line class="cv r" x1="192" y1="1342.12" x2="224.8" y2="1342.12"/>
<text class="lg" x="237.8" y="1348.12">Advers.+dBN (AUC:0.94)</text>
<line class="cv g" x1="192" y1="1365.69" x2="224.8" y2="1365.69"/>
<text class="lg" x="237.8" y="1371.69">Advers. (AUC:0.93)</text>
<line class="dg" x1="192" y1="1389.26" x2="224.8" y2="1389.26"/>
<text class="lg" x="237.8" y="1395.26">Random Guessing</text>
<text class="ttl" x="246.13" y="1031.4">Consolidation</text>
<text class="tk tkx" x="71.85" y="1437.7">0.0</text>
<text class="tk tky" x="41.15" y="1401.7">0.0</text>
<text class="tk tkx" x="141.57" y="1437.7">0.2</text>
<text class="tk tky" x="41.15" y="1333.86">0.2</text>
<text class="tk tkx" x="211.29" y="1437.7">0.4</text>
<text class="tk tky" x="41.15" y="1266.02">0.4</text>
<text class="tk tkx" x="281.01" y="1437.7">0.6</text>
<text class="tk tky" x="41.15" y="1198.18">0.6</text>
<text class="tk tkx" x="350.73" y="1437.7">0.8</text>
<text class="tk tky" x="41.15" y="1130.34">0.8</text>
<text class="tk tkx" x="420.45" y="1437.7">1.0</text>
<text class="tk tky" x="41.15" y="1062.5">1.0</text>
<text class="lab" x="246.13" y="1457.4">False Positive Rate</text>
<text class="lab" transform="translate(11.65 1227.15) rotate(-90)">True Positive Rate</text>
</g>
<g id="p-pneumot">
<defs><clipPath id="c8"><rect x="493.1" y="1040.7" width="381.35" height="371.7"/></clipPath></defs>
<rect x="493.1" y="1040.7" width="381.35" height="371.7" fill="#eaeaf2"/>
<g class="grid">
<line x1="509.5" y1="1040.7" x2="509.5" y2="1412.4"/>
<line x1="493.1" y1="1396.2" x2="874.45" y2="1396.2"/>
<line x1="579.22" y1="1040.7" x2="579.22" y2="1412.4"/>
<line x1="493.1" y1="1328.36" x2="874.45" y2="1328.36"/>
<line x1="648.94" y1="1040.7" x2="648.94" y2="1412.4"/>
<line x1="493.1" y1="1260.52" x2="874.45" y2="1260.52"/>
<line x1="718.66" y1="1040.7" x2="718.66" y2="1412.4"/>
<line x1="493.1" y1="1192.68" x2="874.45" y2="1192.68"/>
<line x1="788.38" y1="1040.7" x2="788.38" y2="1412.4"/>
<line x1="493.1" y1="1124.84" x2="874.45" y2="1124.84"/>
<line x1="858.1" y1="1040.7" x2="858.1" y2="1412.4"/>
<line x1="493.1" y1="1057" x2="874.45" y2="1057"/>
</g>
<g clip-path="url(#c8)">
<polyline class="cv b" points="509.5,1396.2 509.5,1396.2 509.5,1202.37 579,1202.37 579,1153.91 622.2,1153.91 622.2,1105.46 656.04,1105.46 656.04,1057 858.1,1057"/>
<polyline class="cv r" points="509.5,1396.2 511.44,1396.2 511.44,1202.37 630.84,1202.37 630.84,1153.91 670.2,1153.91 670.2,1105.46 727.76,1105.46 727.76,1057 858.1,1057"/>
<polyline class="cv g" points="509.5,1396.2 518.52,1396.2 518.52,1347.74 570.24,1347.74 570.24,1299.29 595.2,1299.29 595.2,1250.83 625.8,1250.83 625.8,1202.37 702.56,1202.37 702.56,1153.91 758.01,1153.91 758.01,1105.46 807.81,1105.46 807.81,1057 858.1,1057"/>
<line class="dg" x1="509.5" y1="1396.2" x2="858.1" y2="1057"/>
</g>
<rect class="lbox" x="622.95" y="1305.65" width="244.1" height="99.4" rx="2.7" ry="2.7"/>
<line class="cv b" x1="629.65" y1="1318.55" x2="662.45" y2="1318.55"/>
<text class="lg" x="675.45" y="1324.55">Standard (AUC:0.87)</text>
<line class="cv r" x1="629.65" y1="1342.12" x2="662.45" y2="1342.12"/>
<text class="lg" x="675.45" y="1348.12">Advers.+dBN (AUC:0.79)</text>
<line class="cv g" x1="629.65" y1="1365.69" x2="662.45" y2="1365.69"/>
<text class="lg" x="675.45" y="1371.69">Advers. (AUC:0.59)</text>
<line class="dg" x1="629.65" y1="1389.26" x2="662.45" y2="1389.26"/>
<text class="lg" x="675.45" y="1395.26">Random Guessing</text>
<text class="ttl" x="683.78" y="1031.4">Pneumothorax</text>
<text class="tk tkx" x="509.5" y="1437.7">0.0</text>
<text class="tk tky" x="478.8" y="1401.7">0.0</text>
<text class="tk tkx" x="579.22" y="1437.7">0.2</text>
<text class="tk tky" x="478.8" y="1333.86">0.2</text>
<text class="tk tkx" x="648.94" y="1437.7">0.4</text>
<text class="tk tky" x="478.8" y="1266.02">0.4</text>
<text class="tk tkx" x="718.66" y="1437.7">0.6</text>
<text class="tk tky" x="478.8" y="1198.18">0.6</text>
<text class="tk tkx" x="788.38" y="1437.7">0.8</text>
<text class="tk tky" x="478.8" y="1130.34">0.8</text>
<text class="tk tkx" x="858.1" y="1437.7">1.0</text>
<text class="tk tky" x="478.8" y="1062.5">1.0</text>
<text class="lab" x="683.78" y="1457.4">False Positive Rate</text>
<text class="lab" transform="translate(449.3 1227.15) rotate(-90)">True Positive Rate</text>
</g>
<g id="p-pneumon">
<defs><clipPath id="c9"><rect x="930.55" y="1040.7" width="381.35" height="371.7"/></clipPath></defs>
<rect x="930.55" y="1040.7" width="381.35" height="371.7" fill="#eaeaf2"/>
<g class="grid">
<line x1="946.95" y1="1040.7" x2="946.95" y2="1412.4"/>
<line x1="930.55" y1="1396.2" x2="1311.9" y2="1396.2"/>
<line x1="1016.67" y1="1040.7" x2="1016.67" y2="1412.4"/>
<line x1="930.55" y1="1328.36" x2="1311.9" y2="1328.36"/>
<line x1="1086.39" y1="1040.7" x2="1086.39" y2="1412.4"/>
<line x1="930.55" y1="1260.52" x2="1311.9" y2="1260.52"/>
<line x1="1156.11" y1="1040.7" x2="1156.11" y2="1412.4"/>
<line x1="930.55" y1="1192.68" x2="1311.9" y2="1192.68"/>
<line x1="1225.83" y1="1040.7" x2="1225.83" y2="1412.4"/>
<line x1="930.55" y1="1124.84" x2="1311.9" y2="1124.84"/>
<line x1="1295.55" y1="1040.7" x2="1295.55" y2="1412.4"/>
<line x1="930.55" y1="1057" x2="1311.9" y2="1057"/>
</g>
<g clip-path="url(#c9)">
<polyline class="cv b" points="946.95,1396.2 946.95,1396.2 946.95,1353.8 956.6,1353.8 956.6,1311.4 961.76,1311.4 961.76,1269 988.4,1269 988.4,1226.6 1011.8,1226.6 1011.8,1184.2 1028,1184.2 1028,1141.8 1042.4,1141.8 1042.4,1057 1295.55,1057"/>
<polyline class="cv r" points="946.95,1396.2 948.44,1396.2 948.44,1353.8 966.8,1353.8 966.8,1311.4 972.2,1311.4 972.2,1269 992,1269 992,1226.6 1019.12,1226.6 1019.12,1184.2 1076.36,1184.2 1076.36,1141.8 1083.44,1141.8 1083.44,1099.4 1091,1099.4 1091,1057 1295.55,1057"/>
<polyline class="cv g" points="946.95,1396.2 950,1396.2 950,1353.8 956.6,1353.8 956.6,1311.4 990.44,1311.4 990.44,1226.6 1015.16,1226.6 1015.16,1184.2 1028,1184.2 1028,1141.8 1089.2,1141.8 1089.2,1057 1295.55,1057"/>
<line class="dg" x1="946.95" y1="1396.2" x2="1295.55" y2="1057"/>
</g>
<rect class="lbox" x="1060.4" y="1305.65" width="244.1" height="99.4" rx="2.7" ry="2.7"/>
<line class="cv b" x1="1067.1" y1="1318.55" x2="1099.9" y2="1318.55"/>
<text class="lg" x="1112.9" y="1324.55">Standard (AUC:0.86)</text>
<line class="cv r" x1="1067.1" y1="1342.12" x2="1099.9" y2="1342.12"/>
<text class="lg" x="1112.9" y="1348.12">Advers.+dBN (AUC:0.79)</text>
<line class="cv g" x1="1067.1" y1="1365.69" x2="1099.9" y2="1365.69"/>
<text class="lg" x="1112.9" y="1371.69">Advers. (AUC:0.81)</text>
<line class="dg" x1="1067.1" y1="1389.26" x2="1099.9" y2="1389.26"/>
<text class="lg" x="1112.9" y="1395.26">Random Guessing</text>
<text class="ttl" x="1121.23" y="1031.4">Pneumonia</text>
<text class="tk tkx" x="946.95" y="1437.7">0.0</text>
<text class="tk tky" x="916.25" y="1401.7">0.0</text>
<text class="tk tkx" x="1016.67" y="1437.7">0.2</text>
<text class="tk tky" x="916.25" y="1333.86">0.2</text>
<text class="tk tkx" x="1086.39" y="1437.7">0.4</text>
<text class="tk tky" x="916.25" y="1266.02">0.4</text>
<text class="tk tkx" x="1156.11" y="1437.7">0.6</text>
<text class="tk tky" x="916.25" y="1198.18">0.6</text>
<text class="tk tkx" x="1225.83" y="1437.7">0.8</text>
<text class="tk tky" x="916.25" y="1130.34">0.8</text>
<text class="tk tkx" x="1295.55" y="1437.7">1.0</text>
<text class="tk tky" x="916.25" y="1062.5">1.0</text>
<text class="lab" x="1121.23" y="1457.4">False Positive Rate</text>
<text class="lab" transform="translate(886.75 1227.15) rotate(-90)">True Positive Rate</text>
</g>
<text class="pn" x="-0.5" y="31.2">a</text>
<text class="pn" x="1027.2" y="31.3">b</text>
<text class="pn" x="-0.4" y="532.2">c</text>
</svg>
</body></html>
